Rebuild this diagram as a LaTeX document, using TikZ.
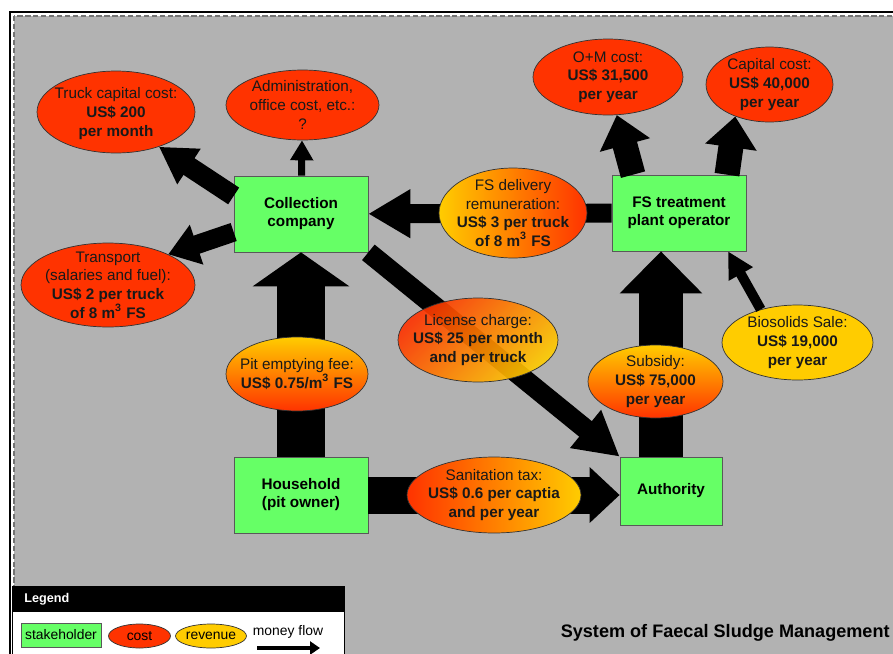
\documentclass[tikz,border=0pt]{standalone}
\usepackage{fontspec}
\setmainfont{Liberation Sans}
\usepackage{xcolor}
\usetikzlibrary{arrows.meta,calc,positioning,shapes.geometric}
\definecolor{stakegreen}{HTML}{66FF66}
\definecolor{costred}{HTML}{FF3300}
\definecolor{revyellow}{HTML}{FFCC00}
\definecolor{bggray}{HTML}{B2B2B2}
\tikzset{
  stakeholder/.style={rectangle,draw=black!65,fill=stakegreen,align=center,
    font=\bfseries\fontsize{8.7}{10.2}\selectfont,inner sep=0pt,
    minimum width=2.68cm,minimum height=1.52cm},
  cost/.style={ellipse,draw=black!80,fill=costred,inner sep=0pt},
  revenue/.style={ellipse,draw=black!80,inner sep=0pt},
  ltxt/.style={align=center,inner sep=0pt,text=black!90,
    font=\fontsize{8.7}{10.6}\selectfont},
  flow/.style n args={3}{draw=black,line width=#1,
    -{Triangle[width=#2,length=#3]}},
  legtxt/.style={inner sep=0pt,font=\fontsize{7.9}{9}\selectfont}
}

\begin{document}
\begin{tikzpicture}[x=0.02cm,y=-0.02cm]
  \useasboundingbox (0,0) rectangle (893,653);
  \clip (0,0) rectangle (893,653);
  % frame and background
  \fill[white] (0,0) rectangle (893,653);
  \fill[bggray] (14,16) rectangle (910,670);
  \draw[black!55,semithick,dash pattern=on 3pt off 1.5pt] (14,16) rectangle (910,670);
  \draw[line width=1.4pt] (10,12) rectangle (910,670);

  % stakeholders
  \node[stakeholder] (collection) at (301,214) {Collection\\company};
  \node[stakeholder] (fstp) at (679,213) {FS treatment\\plant operator};
  \node[stakeholder] (household) at (301,495) {Household\\(pit owner)};
  \node[stakeholder,minimum width=2.04cm,minimum height=1.36cm]
    (authority) at (671,491) {Authority};

  % costs
  \node[cost,minimum width=3.16cm,minimum height=1.64cm] (truck) at (116,112) {};
  \node[ltxt] (truck-txt) at ($(truck)+(0,1.5)$) {Truck capital cost:\\\textbf{US\$ 200}\\\textbf{per month}};
  \node[cost,minimum width=3.06cm,minimum height=1.40cm] (admin) at (302.5,105) {};
  \node[ltxt] (admin-txt) at (admin) {Administration,\\office cost, etc.:\\?};
  \node[cost,minimum width=3.48cm,minimum height=1.68cm] (transport) at (108,285) {};
  \node[ltxt] (transport-txt) at (transport) {Transport\\(salaries and fuel):\\\textbf{US\$ 2 per truck}\\\textbf{of 8 m\textsuperscript{3} FS}};
  \node[cost,minimum width=3.0cm,minimum height=1.52cm] (om) at (608,77) {};
  \node[ltxt] (om-txt) at (om) {O+M cost:\\\textbf{US\$ 31,500}\\\textbf{per year}};
  \node[cost,minimum width=2.54cm,minimum height=1.5cm] (capcost) at (769.5,84.5) {};
  \node[ltxt] (capcost-txt) at (capcost) {Capital cost:\\\textbf{US\$ 40,000}\\\textbf{per year}};
  \node[revenue,fill=revyellow,minimum width=3.02cm,minimum height=1.5cm] (bio) at (797.5,342.5) {};
  \node[ltxt] (bio-txt) at (bio) {Biosolids Sale:\\\textbf{US\$ 19,000}\\\textbf{per year}};

  % money flows
  \draw[flow={0.98cm}{1.9cm}{0.68cm}] (household) -- (collection);
  \draw[flow={0.4cm}{0.8cm}{0.72cm}] (collection.165) -- (truck.-39);
  \draw[flow={0.38cm}{0.8cm}{0.6cm}] (collection.195) -- (transport.27);
  \draw[flow={0.14cm}{0.44cm}{0.4cm}] (collection) -- (admin);
  \draw[flow={0.38cm}{0.92cm}{0.84cm}] (fstp) -- (collection);
  \draw[flow={0.5cm}{1.0cm}{0.62cm}] ($(fstp.north)+(-46,0)$) -- (om.-77);
  \draw[flow={0.5cm}{1.0cm}{0.62cm}] ($(fstp.north)+(48,0)$) -- (capcost.-137);
  \draw[flow={0.4cm}{0.92cm}{0.88cm}] (collection.south east) -- (authority.north west);
  \draw[flow={0.88cm}{1.6cm}{0.84cm}] ($(authority.north)+(-10,0)$) -- ($(fstp.south)+(-18,0)$);
  \draw[flow={0.2cm}{0.52cm}{0.52cm}] (bio.138) -- (fstp.-38);
  \draw[flow={0.74cm}{1.08cm}{0.6cm}] (household.east) -- (household.east -| authority.west);

  % revenues on the flows
  \node[revenue,top color=revyellow,bottom color=costred,
    minimum width=2.84cm,minimum height=1.48cm] (pitfee) at (297,374) {};
  \node[ltxt] (pitfee-txt) at (pitfee) {Pit emptying fee:\\\textbf{US\$ 0.75/m\textsuperscript{3} FS}};
  \node[revenue,left color=revyellow,right color=costred,
    minimum width=2.96cm,minimum height=1.80cm] (delivery) at (513,213) {};
  \node[ltxt] (delivery-txt) at (delivery) {FS delivery\\remuneration:\\\textbf{US\$ 3 per truck}\\\textbf{of 8 m\textsuperscript{3} FS}};
  \node[revenue,top color=costred,bottom color=revyellow,shading angle=45,
    fill opacity=0.9,minimum width=3.2cm,minimum height=1.68cm] (license) at (478,340) {};
  \node[ltxt] (license-txt) at (license) {License charge:\\\textbf{US\$ 25 per month}\\\textbf{and per truck}};
  \node[revenue,top color=revyellow,bottom color=costred,
    minimum width=2.7cm,minimum height=1.46cm] (subsidy) at (655.5,381.5) {};
  \node[ltxt] (subsidy-txt) at (subsidy) {Subsidy:\\\textbf{US\$ 75,000}\\\textbf{per year}};
  \node[revenue,left color=costred,right color=revyellow,
    minimum width=3.48cm,minimum height=1.52cm] (sanitation) at (494,495) {};
  \node[ltxt] (sanitation-txt) at (sanitation) {Sanitation tax:\\\textbf{US\$ 0.6 per captia}\\\textbf{and per year}};

  % legend
  \draw[fill=white] (12,586) rectangle (344,670);
  \fill (12,586) rectangle (344,612);
  \node[anchor=west,text=white,inner sep=0pt,font=\bfseries\fontsize{7.2}{8}\selectfont]
    (legend) at (24,599) {Legend};
  \node[rectangle,draw=black!65,fill=stakegreen,minimum width=1.6cm,minimum height=0.48cm,
    legtxt] (leg-stake) at (61,635) {stakeholder};
  \node[cost,minimum width=1.24cm,minimum height=0.48cm,legtxt] (leg-cost) at (139.5,636) {cost};
  \node[revenue,fill=revyellow,minimum width=1.32cm,minimum height=0.48cm,legtxt]
    (leg-rev) at (211,636) {revenue};
  \node[legtxt] (leg-flow) at (288,632) {money flow};
  \coordinate (mf-a) at (257,648);
  \coordinate (mf-b) at (320,648);
  \draw[flow={0.08cm}{0.26cm}{0.2cm}] (mf-a) -- (mf-b);

  % title
  \node[anchor=east,inner sep=0pt,font=\bfseries\fontsize{10.3}{12}\selectfont,text=black]
    (title) at (890,633) {System of Faecal Sludge Management};
\end{tikzpicture}
\end{document}
